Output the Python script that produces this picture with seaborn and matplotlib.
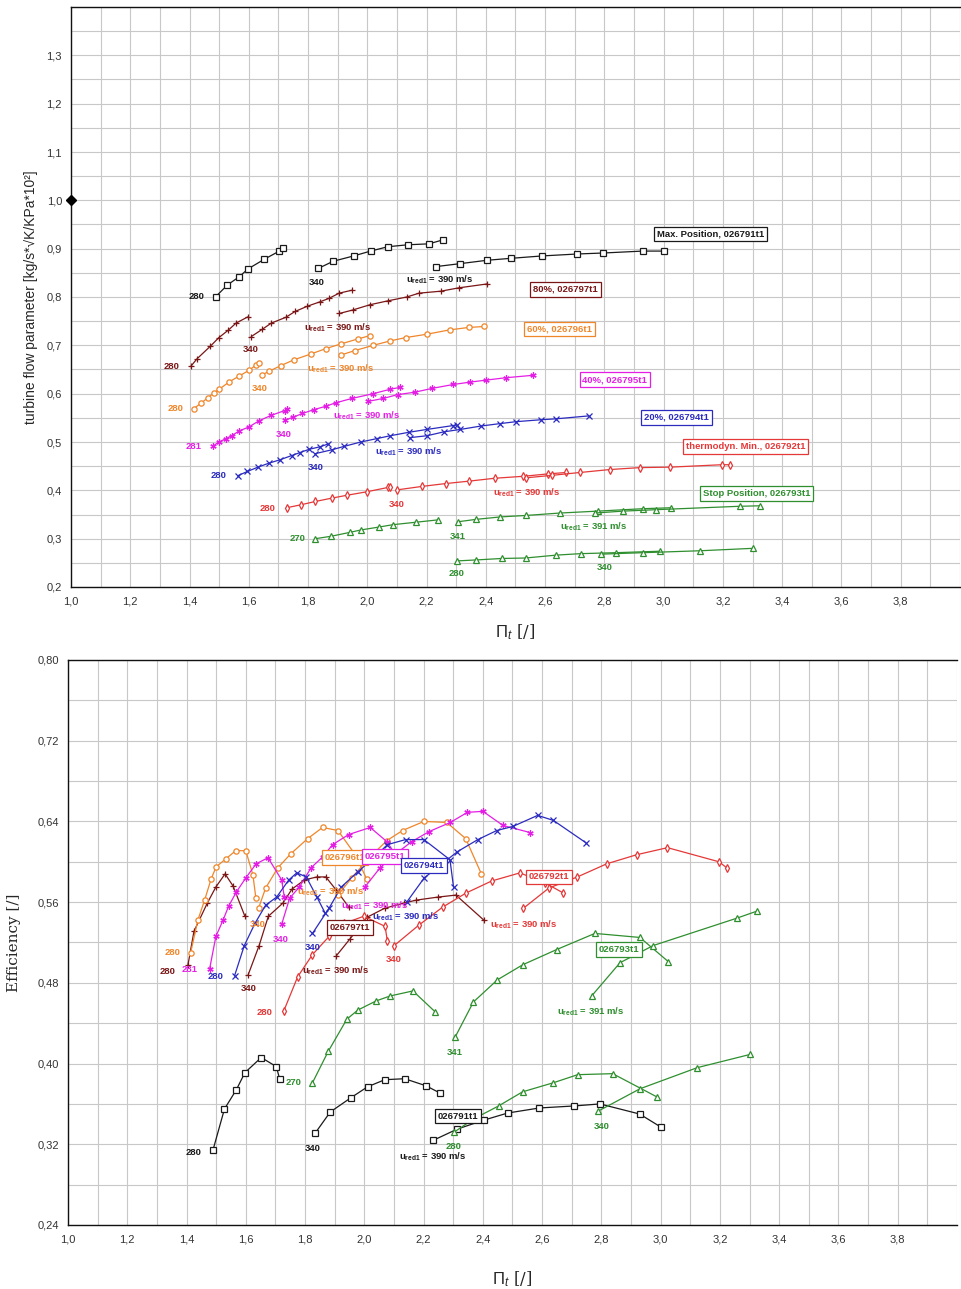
import matplotlib
matplotlib.use("Agg")
import matplotlib.pyplot as plt
import seaborn as sns
import numpy as np
import pandas as pd
from matplotlib.ticker import MultipleLocator, FuncFormatter

# ---------------- data ----------------
# Max. Position, 026791t1 (black)
max_280_pi = [1.489, 1.528, 1.568, 1.597, 1.652, 1.703, 1.714]
max_280_flow = [0.801, 0.825, 0.842, 0.858, 0.878, 0.895, 0.902]
max_280_eff = [0.314, 0.355, 0.374, 0.391, 0.406, 0.397, 0.385]
max_340_pi = [1.834, 1.885, 1.954, 2.011, 2.069, 2.136, 2.208, 2.254]
max_340_flow = [0.859, 0.874, 0.885, 0.895, 0.904, 0.908, 0.910, 0.918]
max_340_eff = [0.331, 0.352, 0.366, 0.377, 0.384, 0.385, 0.378, 0.371]
max_390_pi = [2.233, 2.313, 2.404, 2.484, 2.591, 2.709, 2.795, 2.929, 3.001]
max_390_flow = [0.863, 0.869, 0.876, 0.880, 0.885, 0.889, 0.891, 0.895, 0.895]
max_390_eff = [0.324, 0.335, 0.344, 0.351, 0.356, 0.358, 0.360, 0.350, 0.337]

# 80%, 026797t1 (dark red)
p80_280_pi = [1.405, 1.425, 1.470, 1.499, 1.530, 1.557, 1.597]
p80_280_flow = [0.657, 0.672, 0.698, 0.716, 0.731, 0.746, 0.759]
p80_280_eff = [0.498, 0.531, 0.559, 0.575, 0.588, 0.576, 0.546]
p80_340_pi = [1.608, 1.645, 1.676, 1.725, 1.756, 1.798, 1.840, 1.870, 1.905, 1.948]
p80_340_flow = [0.718, 0.733, 0.746, 0.758, 0.770, 0.781, 0.790, 0.797, 0.808, 0.814]
p80_340_eff = [0.488, 0.517, 0.546, 0.559, 0.573, 0.582, 0.585, 0.585, 0.572, 0.555]
p80_390_pi = [1.906, 1.950, 2.009, 2.069, 2.133, 2.175, 2.248, 2.309, 2.404]
p80_390_flow = [0.766, 0.773, 0.784, 0.792, 0.800, 0.808, 0.812, 0.819, 0.827]
p80_390_eff = [0.507, 0.523, 0.545, 0.554, 0.559, 0.562, 0.565, 0.567, 0.542]

# 60%, 026796t1 (orange)
p60_280_pi = [1.414, 1.438, 1.461, 1.483, 1.500, 1.533, 1.566, 1.600, 1.624, 1.634]
p60_280_flow = [0.569, 0.580, 0.591, 0.602, 0.609, 0.624, 0.636, 0.648, 0.659, 0.663]
p60_280_eff = [0.510, 0.542, 0.562, 0.583, 0.595, 0.603, 0.611, 0.611, 0.587, 0.564]
p60_340_pi = [1.643, 1.667, 1.708, 1.752, 1.809, 1.859, 1.911, 1.967, 2.008]
p60_340_flow = [0.638, 0.646, 0.658, 0.670, 0.682, 0.693, 0.703, 0.713, 0.720]
p60_340_eff = [0.554, 0.574, 0.594, 0.608, 0.623, 0.634, 0.631, 0.608, 0.583]
p60_390_pi = [1.911, 1.957, 2.020, 2.076, 2.129, 2.201, 2.278, 2.342, 2.395]
p60_390_flow = [0.680, 0.689, 0.700, 0.709, 0.716, 0.723, 0.732, 0.737, 0.739]
p60_390_eff = [0.567, 0.584, 0.605, 0.621, 0.631, 0.640, 0.639, 0.623, 0.588]

# 40%, 026795t1 (magenta)
p40_281_pi = [1.478, 1.499, 1.523, 1.542, 1.568, 1.600, 1.635, 1.675, 1.721, 1.730]
p40_281_flow = [0.491, 0.500, 0.507, 0.513, 0.523, 0.531, 0.544, 0.555, 0.565, 0.568]
p40_281_eff = [0.494, 0.526, 0.542, 0.556, 0.570, 0.584, 0.598, 0.604, 0.582, 0.565]
p40_340_pi = [1.721, 1.748, 1.781, 1.820, 1.860, 1.893, 1.947, 2.020, 2.076, 2.110]
p40_340_flow = [0.545, 0.551, 0.559, 0.567, 0.574, 0.581, 0.590, 0.600, 0.609, 0.613]
p40_340_eff = [0.538, 0.564, 0.575, 0.594, 0.605, 0.617, 0.627, 0.634, 0.620, 0.605]
p40_390_pi = [2.002, 2.053, 2.102, 2.160, 2.219, 2.290, 2.348, 2.400, 2.468, 2.559]
p40_390_flow = [0.584, 0.590, 0.598, 0.603, 0.611, 0.619, 0.624, 0.628, 0.633, 0.638]
p40_390_eff = [0.575, 0.594, 0.607, 0.620, 0.630, 0.639, 0.649, 0.650, 0.636, 0.629]

# 20%, 026794t1 (blue)
p20_280_pi = [1.562, 1.595, 1.631, 1.667, 1.704, 1.745, 1.772, 1.804, 1.840, 1.868]
p20_280_flow = [0.430, 0.439, 0.448, 0.456, 0.463, 0.472, 0.478, 0.485, 0.490, 0.496]
p20_280_eff = [0.487, 0.517, 0.539, 0.557, 0.565, 0.582, 0.589, 0.585, 0.565, 0.549]
p20_340_pi = [1.825, 1.881, 1.922, 1.978, 2.032, 2.078, 2.139, 2.201, 2.289, 2.301]
p20_340_flow = [0.476, 0.484, 0.491, 0.500, 0.507, 0.513, 0.520, 0.526, 0.534, 0.535]
p20_340_eff = [0.529, 0.554, 0.575, 0.590, 0.604, 0.617, 0.622, 0.622, 0.602, 0.575]
p20_390_pi = [2.143, 2.202, 2.258, 2.314, 2.383, 2.447, 2.501, 2.585, 2.638, 2.747]
p20_390_flow = [0.509, 0.513, 0.521, 0.526, 0.533, 0.538, 0.542, 0.546, 0.548, 0.554]
p20_390_eff = [0.560, 0.584, 0.597, 0.610, 0.622, 0.631, 0.635, 0.646, 0.641, 0.619]

# thermodyn. Min., 026792t1 (red)
tmin_280_pi = [1.728, 1.775, 1.825, 1.881, 1.933, 1.998, 2.070, 2.078]
tmin_280_flow = [0.364, 0.370, 0.377, 0.384, 0.390, 0.397, 0.406, 0.407]
tmin_280_eff = [0.452, 0.486, 0.508, 0.526, 0.539, 0.546, 0.536, 0.521]
tmin_340_pi = [2.101, 2.183, 2.264, 2.343, 2.430, 2.525, 2.610, 2.672]
tmin_340_flow = [0.401, 0.408, 0.414, 0.419, 0.425, 0.429, 0.434, 0.437]
tmin_340_eff = [0.517, 0.537, 0.555, 0.569, 0.581, 0.589, 0.579, 0.569]
tmin_390_pi = [2.537, 2.623, 2.719, 2.818, 2.919, 3.023, 3.197, 3.223]
tmin_390_flow = [0.426, 0.431, 0.437, 0.443, 0.447, 0.448, 0.453, 0.453]
tmin_390_eff = [0.554, 0.574, 0.585, 0.598, 0.607, 0.614, 0.600, 0.594]

# Stop Position, 026793t1 (green)
stop_270_pi = [1.825, 1.878, 1.941, 1.978, 2.039, 2.087, 2.164, 2.240]
stop_270_flow = [0.300, 0.305, 0.313, 0.318, 0.324, 0.329, 0.334, 0.339]
stop_270_eff = [0.381, 0.412, 0.444, 0.453, 0.462, 0.467, 0.472, 0.451]
stop_341_pi = [2.306, 2.368, 2.449, 2.535, 2.649, 2.778, 2.930, 3.026]
stop_341_flow = [0.335, 0.340, 0.345, 0.348, 0.353, 0.357, 0.362, 0.364]
stop_341_eff = [0.426, 0.461, 0.483, 0.498, 0.513, 0.529, 0.525, 0.501]
stop_391_pi = [2.767, 2.863, 2.975, 3.256, 3.324]
stop_391_flow = [0.353, 0.357, 0.360, 0.367, 0.368]
stop_391_eff = [0.467, 0.500, 0.517, 0.544, 0.551]
stop_280_pi = [2.303, 2.368, 2.453, 2.534, 2.638, 2.720, 2.838, 2.987]
stop_280_flow = [0.254, 0.256, 0.259, 0.260, 0.266, 0.269, 0.271, 0.274]
stop_280_eff = [0.332, 0.345, 0.358, 0.372, 0.381, 0.389, 0.390, 0.367]
stop_340_pi = [2.790, 2.930, 3.124, 3.301]
stop_340_flow = [0.268, 0.271, 0.275, 0.280]
stop_340_eff = [0.353, 0.375, 0.396, 0.409]

# ---------------- styles ----------------
C_BLACK = "#1a1a1a"
C_DRED = "#7a1616"
C_ORANGE = "#f0862a"
C_MAG = "#e51ee5"
C_BLUE = "#2b2bc0"
C_RED = "#e53838"
C_GREEN = "#2f8f2f"

ASTER = (6, 2, 0)

families = [
    (C_BLACK, "s", True, [(max_280_pi, max_280_flow, max_280_eff),
                          (max_340_pi, max_340_flow, max_340_eff),
                          (max_390_pi, max_390_flow, max_390_eff)]),
    (C_DRED, "+", False, [(p80_280_pi, p80_280_flow, p80_280_eff),
                          (p80_340_pi, p80_340_flow, p80_340_eff),
                          (p80_390_pi, p80_390_flow, p80_390_eff)]),
    (C_ORANGE, "o", True, [(p60_280_pi, p60_280_flow, p60_280_eff),
                           (p60_340_pi, p60_340_flow, p60_340_eff),
                           (p60_390_pi, p60_390_flow, p60_390_eff)]),
    (C_MAG, ASTER, False, [(p40_281_pi, p40_281_flow, p40_281_eff),
                           (p40_340_pi, p40_340_flow, p40_340_eff),
                           (p40_390_pi, p40_390_flow, p40_390_eff)]),
    (C_BLUE, "x", False, [(p20_280_pi, p20_280_flow, p20_280_eff),
                          (p20_340_pi, p20_340_flow, p20_340_eff),
                          (p20_390_pi, p20_390_flow, p20_390_eff)]),
    (C_RED, "d", True, [(tmin_280_pi, tmin_280_flow, tmin_280_eff),
                        (tmin_340_pi, tmin_340_flow, tmin_340_eff),
                        (tmin_390_pi, tmin_390_flow, tmin_390_eff)]),
    (C_GREEN, "^", True, [(stop_270_pi, stop_270_flow, stop_270_eff),
                          (stop_341_pi, stop_341_flow, stop_341_eff),
                          (stop_391_pi, stop_391_flow, stop_391_eff),
                          (stop_280_pi, stop_280_flow, stop_280_eff),
                          (stop_340_pi, stop_340_flow, stop_340_eff)]),
]

U = r"u$_{\mathregular{red1}}$"

# (text, x, y, color, boxed)
top_labels = [
    ("280", 1.425, 0.800, C_BLACK, False), ("340", 1.830, 0.831, C_BLACK, False),
    (U + " = 390 m/s", 2.245, 0.835, C_BLACK, False),
    ("Max. Position, 026791t1", 3.158, 0.930, C_BLACK, True),
    ("280", 1.341, 0.656, C_DRED, False), ("340", 1.607, 0.691, C_DRED, False),
    (U + " = 390 m/s", 1.900, 0.736, C_DRED, False),
    ("80%, 026797t1", 2.669, 0.816, C_DRED, True),
    ("280", 1.354, 0.569, C_ORANGE, False), ("340", 1.637, 0.610, C_ORANGE, False),
    (U + " = 390 m/s", 1.911, 0.652, C_ORANGE, False),
    ("60%, 026796t1", 2.649, 0.734, C_ORANGE, True),
    ("281", 1.415, 0.491, C_MAG, False), ("340", 1.718, 0.515, C_MAG, False),
    (U + " = 390 m/s", 1.998, 0.555, C_MAG, False),
    ("40%, 026795t1", 2.835, 0.629, C_MAG, True),
    ("280", 1.499, 0.431, C_BLUE, False), ("340", 1.826, 0.447, C_BLUE, False),
    (U + " = 390 m/s", 2.140, 0.480, C_BLUE, False),
    ("20%, 026794t1", 3.044, 0.551, C_BLUE, True),
    ("280", 1.664, 0.363, C_RED, False), ("340", 2.100, 0.371, C_RED, False),
    (U + " = 390 m/s", 2.538, 0.396, C_RED, False),
    ("thermodyn. Min., 026792t1", 3.277, 0.491, C_RED, True),
    ("270", 1.766, 0.301, C_GREEN, False), ("341", 2.305, 0.305, C_GREEN, False),
    (U + " = 391 m/s", 2.764, 0.324, C_GREEN, False),
    ("Stop Position, 026793t1", 3.314, 0.394, C_GREEN, True),
    ("280", 2.302, 0.227, C_GREEN, False), ("340", 2.801, 0.241, C_GREEN, False),
]

bottom_labels = [
    ("280", 1.354, 0.510, C_ORANGE, False), ("280", 1.337, 0.491, C_DRED, False),
    ("281", 1.412, 0.493, C_MAG, False), ("280", 1.499, 0.486, C_BLUE, False),
    ("340", 1.611, 0.474, C_DRED, False), ("340", 1.641, 0.538, C_ORANGE, False),
    ("340", 1.719, 0.523, C_MAG, False), ("340", 1.827, 0.515, C_BLUE, False),
    ("280", 1.665, 0.451, C_RED, False), ("340", 2.100, 0.503, C_RED, False),
    ("270", 1.762, 0.381, C_GREEN, False), ("341", 2.306, 0.411, C_GREEN, False),
    ("280", 1.425, 0.312, C_BLACK, False), ("340", 1.827, 0.316, C_BLACK, False),
    ("280", 2.302, 0.318, C_GREEN, False), ("340", 2.802, 0.338, C_GREEN, False),
    (U + " = 390 m/s", 1.885, 0.570, C_ORANGE, False),
    (U + " = 390 m/s", 2.035, 0.556, C_MAG, False),
    (U + " = 390 m/s", 2.140, 0.546, C_BLUE, False),
    (U + " = 390 m/s", 1.904, 0.492, C_DRED, False),
    (U + " = 390 m/s", 2.538, 0.538, C_RED, False),
    (U + " = 391 m/s", 2.765, 0.451, C_GREEN, False),
    (U + " = 390 m/s", 2.231, 0.308, C_BLACK, False),
    ("026796t1", 1.935, 0.604, C_ORANGE, True),
    ("026795t1", 2.070, 0.605, C_MAG, True),
    ("026794t1", 2.200, 0.596, C_BLUE, True),
    ("026797t1", 1.951, 0.535, C_DRED, True),
    ("026792t1", 2.623, 0.585, C_RED, True),
    ("026793t1", 2.859, 0.513, C_GREEN, True),
    ("026791t1", 2.316, 0.348, C_BLACK, True),
]

# ---------------- figure ----------------
sns.set_style("white")
plt.rcParams["font.family"] = ["Liberation Sans", "DejaVu Sans"]
plt.rcParams["mathtext.fontset"] = "custom"
plt.rcParams["mathtext.rm"] = "Liberation Sans"
plt.rcParams["mathtext.it"] = "Liberation Sans:italic"

fig = plt.figure(figsize=(9.62, 12.89), dpi=100)
ax1 = fig.add_axes([71 / 962, 1 - 587 / 1289, 889 / 962, 580 / 1289])
ax2 = fig.add_axes([68 / 962, 1 - 1225 / 1289, 889 / 962, 565 / 1289])


def comma(dec, skip=None):
    def f(v, p):
        if skip is not None and abs(v - skip) < 1e-6:
            return ""
        return f"{v:.{dec}f}".replace(".", ",")
    return FuncFormatter(f)


def style_axis(ax, ylo, yhi, ymaj, ymin, ydec):
    ax.set_xlim(1.0, 4.0)
    ax.set_ylim(ylo, yhi)
    ax.xaxis.set_major_locator(MultipleLocator(0.2))
    ax.xaxis.set_minor_locator(MultipleLocator(0.1))
    ax.yaxis.set_major_locator(MultipleLocator(ymaj))
    ax.yaxis.set_minor_locator(MultipleLocator(ymin))
    ax.xaxis.set_major_formatter(comma(1, skip=4.0))
    ax.yaxis.set_major_formatter(comma(ydec, skip=(yhi if ydec == 1 else None)))
    ax.grid(True, which="both", color="#c8c8c8", linewidth=0.8)
    ax.set_axisbelow(True)
    ax.tick_params(axis="both", which="major", labelsize=8, colors="#333333",
                   direction="out", length=3, width=0.8, labelcolor="#333333")
    ax.tick_params(axis="both", which="minor", length=0)
    for s in ax.spines.values():
        s.set_color("#111111")
        s.set_linewidth(1.0)
    ax.spines["right"].set_visible(False)


def draw(ax, which):
    for color, marker, hollow, curves in families:
        for pi, flow, eff in curves:
            df = pd.DataFrame({"pi": pi, "val": flow if which == "flow" else eff})
            kw = dict(markeredgecolor=color, markeredgewidth=0.9,
                      markersize=3.8 if marker not in ("+", "x", ASTER) else 4.5)
            if hollow:
                kw["markerfacecolor"] = "white"
            else:
                kw["markerfacecolor"] = color
            sns.lineplot(data=df, x="pi", y="val", ax=ax, color=color, marker=marker,
                         linewidth=0.9, sort=False, estimator=None, legend=False, **kw)


def put_labels(ax, labels):
    for txt, x, y, c, boxed in labels:
        kw = dict(ha="center", va="center", fontsize=6.8, color=c, fontweight="bold")
        if boxed:
            kw["bbox"] = dict(boxstyle="square,pad=0.3", fc="white", ec=c, lw=0.9)
        ax.text(x, y, txt, zorder=6, **kw)


# top chart
draw(ax1, "flow")
style_axis(ax1, 0.2, 1.4, 0.1, 0.05, 1)
ax1.plot([1.0], [1.0], marker="D", color="black", markersize=5, clip_on=False, zorder=7)
put_labels(ax1, top_labels)
ax1.set_xlabel(r"$\Pi_t$ [/]", family="DejaVu Serif", fontsize=12, labelpad=12)
ax1.set_ylabel("turbine flow parameter [kg/s*\u221aK/KPa*10\u00b2]", fontsize=10, labelpad=6)

# bottom chart
draw(ax2, "eff")
style_axis(ax2, 0.24, 0.80, 0.08, 0.04, 2)
put_labels(ax2, bottom_labels)
ax2.set_xlabel(r"$\Pi_t$ [/]", family="DejaVu Serif", fontsize=12, labelpad=18)
ax2.set_ylabel("Efficiency [/]", family="DejaVu Serif", fontsize=11, labelpad=12)

fig.savefig("out.png", dpi=100)
